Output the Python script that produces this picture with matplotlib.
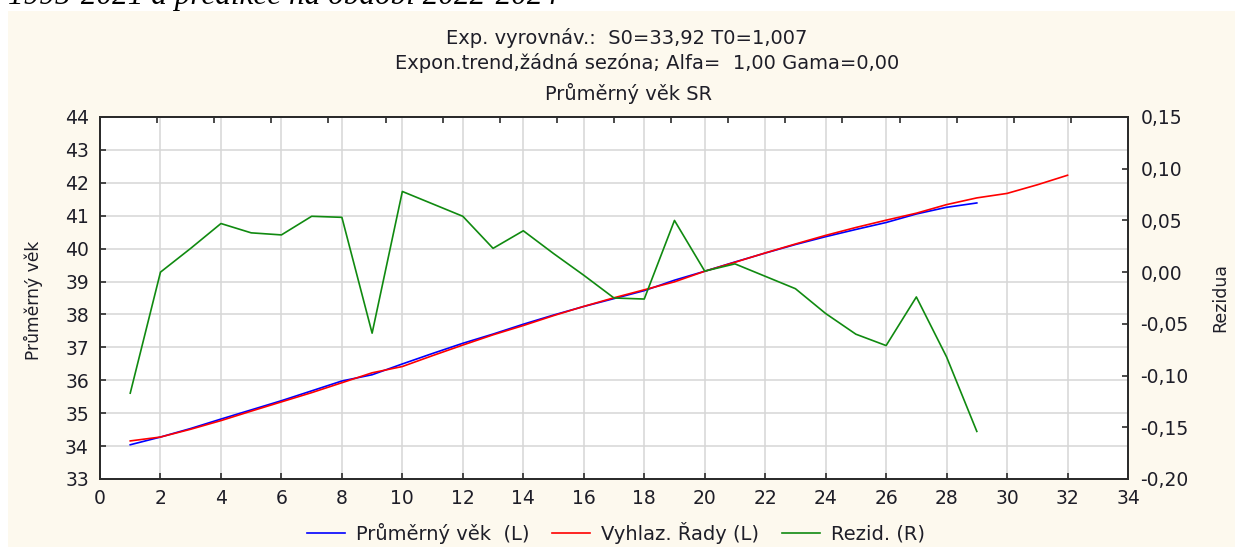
import numpy as np
import matplotlib
matplotlib.use("Agg")
import matplotlib.pyplot as plt
from matplotlib.patches import Rectangle
from matplotlib.lines import Line2D

# Values: period index, observed mean age, smoothed/forecast series, residuals
obdobi = list(range(1, 30))
obdobi_vyhlaz = list(range(1, 33))

prumerny_vek = [34.040, 34.275, 34.535, 34.821, 35.100, 35.379, 35.678, 35.978,
                36.168, 36.496, 36.815, 37.124, 37.404, 37.703, 37.982, 38.242,
                38.482, 38.723, 39.041, 39.313, 39.594, 39.865, 40.125, 40.363,
                40.583, 40.794, 41.053, 41.256, 41.388]

vyhlazene = [34.157, 34.275, 34.512, 34.774, 35.062, 35.343, 35.624, 35.925,
             36.227, 36.418, 36.749, 37.070, 37.381, 37.663, 37.964, 38.245,
             38.507, 38.749, 38.991, 39.312, 39.586, 39.869, 40.141, 40.403,
             40.643, 40.865, 41.077, 41.338, 41.542, 41.678, 41.940, 42.230]

rezidua = [-0.117, 0.000, 0.023, 0.047, 0.038, 0.036, 0.054, 0.053, -0.059,
           0.078, 0.066, 0.054, 0.023, 0.040, 0.018, -0.003, -0.025, -0.026,
           0.050, 0.001, 0.008, -0.004, -0.016, -0.040, -0.060, -0.071,
           -0.024, -0.082, -0.154]

x_ticks = list(range(0, 35, 2))
y_ticks = list(range(33, 45))
r_ticks = [-0.20, -0.15, -0.10, -0.05, 0.00, 0.05, 0.10, 0.15]
r_labels = ["-0,20", "-0,15", "-0,10", "-0,05", "0,00", "0,05", "0,10", "0,15"]

W, H = 1235, 547
cream = "#fdf9ee"
txt = "#1e1e28"
plt.rcParams["font.family"] = ["DejaVu Sans"]

fig = plt.figure(figsize=(W / 100, H / 100), dpi=100, facecolor="white")

def px(x, y):
    # pixel position (from top-left) -> figure fraction
    return x / W, 1 - y / H

# cream panel behind the chart
fig.patches.append(Rectangle((8 / W, 0), 1, (H - 11) / H, transform=fig.transFigure,
                             facecolor=cream, edgecolor="none", zorder=-5))

# caption line of the surrounding document, cut at the top
fig.text(*px(8, 4), "1995-2021 a predikce na období 2022-2024", family="Liberation Serif",
         style="italic", fontsize=22.5, color="black", va="baseline", ha="left", zorder=5)

left, right, top, bottom = 100, 1128, 117, 479
ax = fig.add_axes([left / W, 1 - bottom / H, (right - left) / W, (bottom - top) / H])
ax.set_facecolor("white")

ax.plot(obdobi, prumerny_vek, color="#0000ff", lw=1.2, zorder=3)
ax.plot(obdobi_vyhlaz, vyhlazene, color="#ff0000", lw=1.2, zorder=4)

ax.set_xlim(0, 34)
ax.set_ylim(33, 44)
ax.set_xticks(x_ticks)
ax.set_yticks(y_ticks)
ax.grid(True, color="#d6d6d6", lw=1.1, zorder=0)
ax.set_axisbelow(True)
ax.tick_params(direction="in", length=4, width=1.2, color="#2b2b2b",
               labelsize=13.5, labelcolor=txt)
ax.tick_params(axis="y", pad=8)
ax.tick_params(axis="x", pad=7)

sec = ax.secondary_xaxis("top")
sec.set_xticks(np.linspace(0, 34, 19)[1:-1])
sec.tick_params(direction="in", length=4, width=1.2, color="#2b2b2b", labeltop=False)

ax2 = ax.twinx()
ax2.plot(obdobi, rezidua, color="#108a10", lw=1.2, zorder=5)
ax2.set_ylim(-0.20, 0.15)
ax2.set_yticks(r_ticks)
ax2.set_yticklabels(r_labels)
ax2.tick_params(direction="in", length=4, width=1.2, color="#2b2b2b",
                labelsize=13.5, labelcolor=txt, pad=9)

for a in (ax, ax2):
    for s in a.spines.values():
        s.set_color("#2b2b2b")
        s.set_linewidth(1.3)
for s in sec.spines.values():
    s.set_color("#2b2b2b")
    s.set_linewidth(1.3)

# titles
fig.text(*px(627, 38), "Exp. vyrovnáv.:  S0=33,92 T0=1,007", fontsize=14, color=txt,
         ha="center", va="center")
fig.text(*px(647, 63), "Expon.trend,žádná sezóna; Alfa=  1,00 Gama=0,00", fontsize=14,
         color=txt, ha="center", va="center")
fig.text(*px(629, 93), "Průměrný věk SR", fontsize=14, color=txt, ha="center", va="center")

# axis titles
fig.text(*px(33, 300), "Průměrný věk", fontsize=12.3, color=txt, rotation=90,
         ha="center", va="center")
fig.text(*px(1220, 297), "Rezidua", fontsize=12.5, color=txt, rotation=90,
         ha="center", va="center")

handles = [Line2D([], [], color="#0000ff", lw=1.2),
           Line2D([], [], color="#ff0000", lw=1.2),
           Line2D([], [], color="#108a10", lw=1.2)]
labels = ["Průměrný věk  (L)", "Vyhlaz. Řady (L)", "Rezid. (R)"]
fig.legend(handles, labels, loc="center", bbox_to_anchor=px(616, 533), ncol=3,
           frameon=False, fontsize=14, handlelength=1.95, handletextpad=0.55,
           columnspacing=1.2, labelcolor=txt)

fig.savefig("out.png", dpi=100, facecolor="white")
